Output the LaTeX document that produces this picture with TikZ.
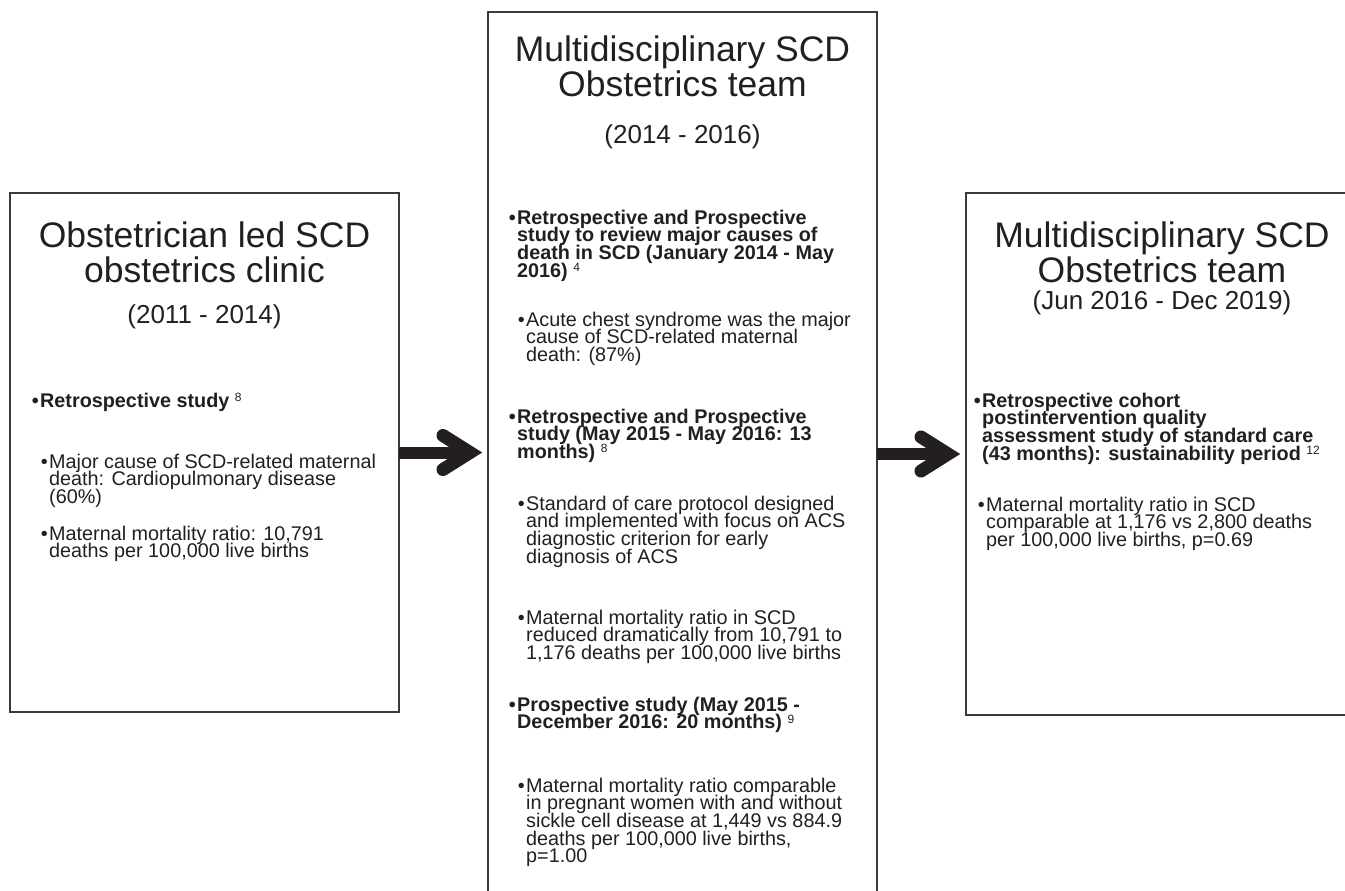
\documentclass[tikz,border=0pt]{standalone}
\usepackage{fontspec}
\setmainfont{Liberation Sans}
\usetikzlibrary{calc}
\definecolor{ink}{HTML}{231F20}
\definecolor{edge}{HTML}{3A3A3A}
\newcommand\supr[1]{\raisebox{5.5pt}{\fontsize{12}{12}\selectfont\mdseries #1}}
\newcommand\bul{\llap{•\hspace{1.5pt}}}
\newcommand\st{\rule{0pt}{15pt}}
\begin{document}
\begin{tikzpicture}[x=1pt,y=-1pt,
  box/.style={draw=edge, line width=2pt, fill=none, inner sep=0pt, outer sep=0pt, anchor=north west},
  ttl/.style={text=ink, inner sep=0pt, align=center, anchor=north, font={\fontsize{35.5}{35}\selectfont\lineskiplimit=-100pt}},
  dte/.style={text=ink, inner sep=0pt, anchor=base, font={\fontsize{26}{26}\selectfont}},
  body/.style={text=ink, inner sep=0pt, align=left, anchor=north west, font={\fontsize{19.8}{17.6}\selectfont\lineskiplimit=-100pt}},
  bold/.style={body, font={\fontsize{19.8}{17.6}\selectfont\bfseries\lineskiplimit=-100pt}},
  shaft/.style={draw=ink, line width=12pt, line cap=butt},
  head/.style={draw=ink, line width=13pt, line cap=round, line join=miter}]
\useasboundingbox (0,0) rectangle (1345,891);
\clip (0,0) rectangle (1345,891);
\fill[white] (0,0) rectangle (1345,891);

% boxes
\node[box, minimum width=389pt, minimum height=519pt] (L) at (10,193) {};
\node[box, minimum width=389pt, minimum height=900pt] (M) at (488,12) {};
\node[box, minimum width=392pt, minimum height=522pt] (R) at (966,193) {};

% left box
\node[ttl] (Lt) at (204.5,217) {\rule{0pt}{30pt}Obstetrician led SCD\\obstetrics clinic};
\node[dte] (Ld) at (204.5,323) {(2011 - 2014)};
\node[bold, anchor=base west] (Lb1) at (40,407) {\bul Retrospective study \supr{8}};
\node[body] (Ls1) at (49,453) {\st\bul Major cause of SCD-related maternal\\death: Cardiopulmonary disease\\(60\%)};
\node[body] (Ls2) at (49,525) {\st\bul Maternal mortality ratio: 10,791\\deaths per 100,000 live births};

% middle box
\node[ttl] (Mt) at (682.5,31) {\rule{0pt}{30pt}Multidisciplinary SCD\\Obstetrics team};
\node[dte] (Md) at (682.5,143) {(2014 - 2016)};
\node[bold] (Mb1) at (517,209) {\st\bul Retrospective and Prospective\\study to review major causes of\\death in SCD (January 2014 - May\\2016) \supr{4}};
\node[body] (Ms1) at (526,311) {\st\bul Acute chest syndrome was the major\\cause of SCD-related maternal\\death: (87\%)};
\node[bold] (Mb2) at (517,408) {\st\bul Retrospective and Prospective\\study (May 2015 - May 2016: 13\\months) \supr{8}};
\node[body] (Ms2) at (526,495) {\st\bul Standard of care protocol designed\\and implemented with focus on ACS\\diagnostic criterion for early\\diagnosis of ACS};
\node[body] (Ms3) at (526,609) {\st\bul Maternal mortality ratio in SCD\\reduced dramatically from 10,791 to\\1,176 deaths per 100,000 live births};
\node[bold] (Mb3) at (517,696) {\st\bul Prospective study (May 2015 -\\December 2016: 20 months) \supr{9}};
\node[body] (Ms4) at (526,777) {\st\bul Maternal mortality ratio comparable\\in pregnant women with and without\\sickle cell disease at 1,449 vs 884.9\\deaths per 100,000 live births,\\p=1.00};

% right box
\node[ttl] (Rt) at (1162,217) {\rule{0pt}{30pt}Multidisciplinary SCD\\Obstetrics team};
\node[dte] (Rd) at (1162,309) {(Jun 2016 - Dec 2019)};
\node[bold] (Rb1) at (982,392) {\st\bul Retrospective cohort\\postintervention quality\\assessment study of standard care\\(43 months): sustainability period \supr{12}};
\node[body] (Rs1) at (986,496) {\st\bul Maternal mortality ratio in SCD\\comparable at 1,176 vs 2,800 deaths\\per 100,000 live births, p=0.69};

% arrows
\coordinate (A1) at ($(M.west |- L.east)$);
\coordinate (A2) at ($(R.west)$);
\draw[shaft] (L.east) -- ($(A1)+(-20,0)$);
\draw[head] ($(A1)+(-45,-17)$) -- ($(A1)+(-18,0)$) -- ($(A1)+(-45,17)$);
\draw[shaft] ($(M.east |- R.west)$) -- ($(A2)+(-20,0)$);
\draw[head] ($(A2)+(-45,-17)$) -- ($(A2)+(-18,0)$) -- ($(A2)+(-45,17)$);
\end{tikzpicture}
\end{document}
